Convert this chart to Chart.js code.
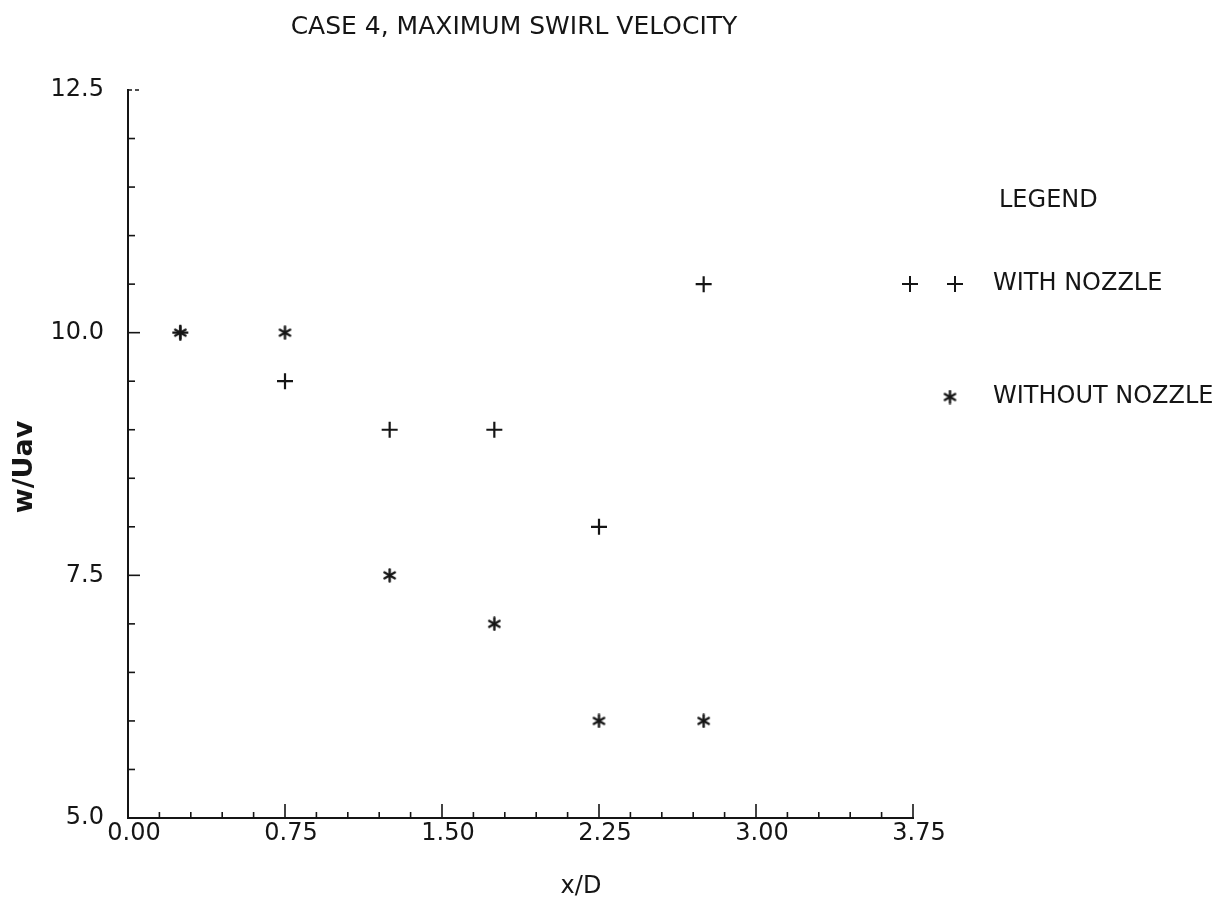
<!DOCTYPE html>
<html lang="en">
<head>
  <meta charset="UTF-8">
  <title>Case 4, maximum swirl velocity</title>
  <script src="https://cdn.jsdelivr.net/npm/chart.js"></script>
  <style>
    body {
      margin: 0;
      background-color: #fff;
    }
    canvas {
      display: block;
    }
  </style>
</head>
<body>
  <canvas id="grafico" width="1225" height="913"></canvas>
</body>
</html>
<script>
  // dados
  const posicoesX = [0.25, 0.75, 1.25, 1.75, 2.25, 2.75];
  const comBocal = [10.0, 9.5, 9.0, 9.0, 8.0, 10.5];
  const semBocal = [10.0, 10.0, 7.5, 7.0, 6.0, 6.0];
  const ticksX = [0.00, 0.75, 1.50, 2.25, 3.00, 3.75];
  const ticksY = [5.0, 7.5, 10.0, 12.5];

  const fonte = "'DejaVu Sans', sans-serif";
  const tinta = "#151515";

  // asterisco de 6 bracos, como o da plotadora
  function criarAsterisco(tam, esp) {
    const c = document.createElement("canvas");
    c.width = tam;
    c.height = tam;
    const g = c.getContext("2d");
    g.strokeStyle = tinta;
    g.lineWidth = esp;
    g.lineCap = "round";
    const r = tam / 2 - 1.5;
    for (let k = 0; k < 3; k++) {
      const a = Math.PI / 2 + k * Math.PI / 3;
      g.beginPath();
      g.moveTo(tam / 2 - r * Math.cos(a), tam / 2 - r * Math.sin(a));
      g.lineTo(tam / 2 + r * Math.cos(a), tam / 2 + r * Math.sin(a));
      g.stroke();
    }
    return c;
  }
  const asterisco = criarAsterisco(15, 2.4);

  // marcas de divisao (para dentro) e linha tracejada no topo
  const marcasPlugin = {
    id: "marcas",
    afterDraw(chart) {
      const c = chart.ctx;
      const sx = chart.scales.x;
      const sy = chart.scales.y;
      const area = chart.chartArea;
      c.save();
      c.strokeStyle = tinta;
      c.lineWidth = 1.6;
      const passoX = (ticksX[1] - ticksX[0]) / 5;
      for (let i = 0; i <= 25; i++) {
        const px = sx.getPixelForValue(i * passoX);
        const len = i % 5 === 0 ? 14 : 6;
        c.beginPath();
        c.moveTo(px, area.bottom);
        c.lineTo(px, area.bottom - len);
        c.stroke();
      }
      const passoY = (ticksY[1] - ticksY[0]) / 5;
      for (let i = 0; i < 15; i++) {
        const py = sy.getPixelForValue(ticksY[0] + i * passoY);
        const len = i % 5 === 0 ? 12 : 7;
        c.beginPath();
        c.moveTo(area.left, py);
        c.lineTo(area.left + len, py);
        c.stroke();
      }
      // topo tracejado
      const topo = sy.getPixelForValue(ticksY[3]);
      c.setLineDash([4, 3]);
      c.beginPath();
      c.moveTo(area.left, topo);
      c.lineTo(area.left + 14, topo);
      c.stroke();
      c.restore();
    }
  };

  // titulos e legenda desenhados a mao
  const textosPlugin = {
    id: "textos",
    afterDraw(chart) {
      const c = chart.ctx;
      c.save();
      c.fillStyle = tinta;
      c.textBaseline = "middle";
      c.textAlign = "center";
      c.font = "25px " + fonte;
      c.fillText("CASE 4, MAXIMUM SWIRL VELOCITY", 514, 27);

      c.font = "24px " + fonte;
      c.fillText("x/D", 581, 887);

      c.save();
      c.translate(25, 467);
      c.rotate(-Math.PI / 2);
      c.font = "bold 27px " + fonte;
      c.fillText("w/Uav", 0, 0);
      c.restore();

      c.textAlign = "left";
      c.font = "24px " + fonte;
      c.fillText("LEGEND", 999, 201);
      c.fillText("WITH NOZZLE", 993, 284);
      c.fillText("WITHOUT NOZZLE", 993, 397);

      const estiloMais = { pointStyle: "cross", radius: 8, borderWidth: 2, rotation: 0 };
      c.strokeStyle = tinta;
      c.lineWidth = 2;
      Chart.helpers.drawPoint(c, estiloMais, 910, 284);
      Chart.helpers.drawPoint(c, estiloMais, 955, 284);
      c.drawImage(asterisco, 950 - asterisco.width / 2, 397 - asterisco.height / 2);
      c.restore();
    }
  };

  const ctx = document.getElementById("grafico").getContext("2d");

  const grafico = new Chart(ctx, {
    type: "scatter",
    data: {
      datasets: [
        {
          label: "WITH NOZZLE",
          data: posicoesX.map((x, i) => ({ x: x, y: comBocal[i] })),
          pointStyle: "cross",
          pointRadius: 8,
          pointBorderWidth: 2.2,
          borderColor: tinta,
          backgroundColor: tinta
        },
        {
          label: "WITHOUT NOZZLE",
          data: posicoesX.map((x, i) => ({ x: x, y: semBocal[i] })),
          pointStyle: asterisco,
          borderColor: tinta,
          backgroundColor: tinta
        }
      ]
    },
    options: {
      responsive: false,
      animation: false,
      layout: {
        padding: { left: 0, right: 312, top: 90, bottom: 0 }
      },
      scales: {
        x: {
          type: "linear",
          min: 0,
          max: 3.75,
          afterBuildTicks: (s) => { s.ticks = ticksX.map(v => ({ value: v })); },
          afterFit: (s) => { s.height = 95; },
          grid: { display: false, drawTicks: false },
          border: { display: true, color: tinta, width: 2 },
          ticks: {
            color: tinta,
            padding: 1,
            labelOffset: 6,
            maxRotation: 0,
            font: { family: fonte, size: 24 },
            callback: (v) => v.toFixed(2)
          }
        },
        y: {
          type: "linear",
          min: 5,
          max: 12.5,
          afterBuildTicks: (s) => { s.ticks = ticksY.map(v => ({ value: v })); },
          afterFit: (s) => { s.width = 128; },
          grid: { display: false, drawTicks: false },
          border: { display: true, color: tinta, width: 2 },
          ticks: {
            color: tinta,
            padding: 24,
            font: { family: fonte, size: 24 },
            callback: (v) => v.toFixed(1)
          }
        }
      },
      plugins: {
        legend: { display: false },
        tooltip: { enabled: false }
      }
    },
    plugins: [marcasPlugin, textosPlugin]
  });
</script>
